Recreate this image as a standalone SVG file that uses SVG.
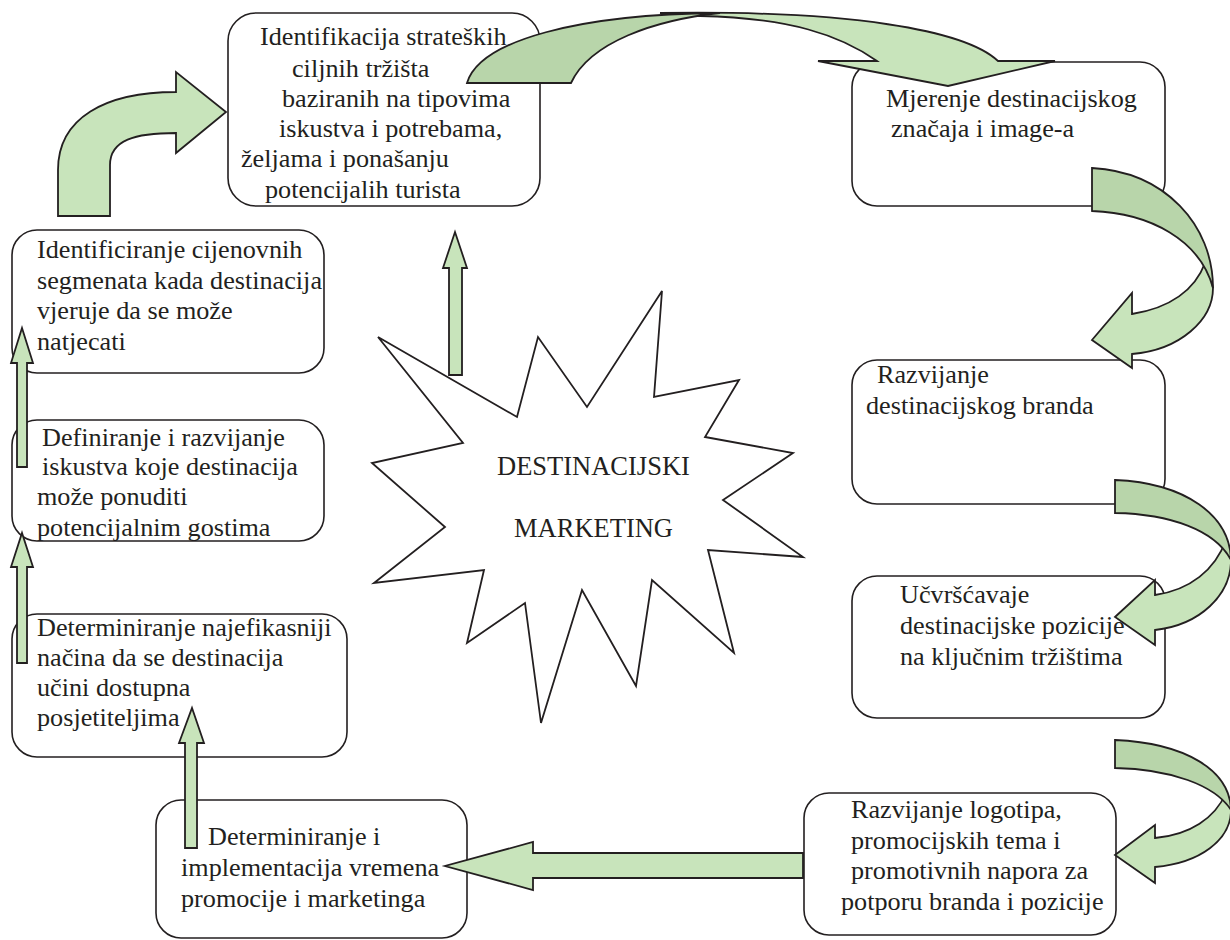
<svg xmlns="http://www.w3.org/2000/svg" width="1230" height="940" viewBox="0 0 1230 940">
<style>
.box{fill:#fff;stroke:#231f20;stroke-width:1.6}
.t{font-family:"Liberation Serif","Times New Roman",serif;font-size:26.2px;fill:#231f20}
.s{font-size:26.5px}
.lg{fill:#c8e4bb;stroke:#231f20;stroke-width:1.8;stroke-linejoin:miter}
.dg{fill:#b8d5aa;stroke:#231f20;stroke-width:1.8}
.star{fill:#fff;stroke:#231f20;stroke-width:1.8}
</style>
<rect width="1230" height="940" fill="#fff"/>
<g id="node-center">
<polygon class="star" points="378,337 517,417 538,337 587,407 662,291 654,397 739,380 705,437 793,453 723,500 803,557 708,550 734,653 652,580 636,686 582,590 541,723 525,603 467,643 484,570 374,583 445,527 372,463 463,443"/>
<text class="t s" x="497" y="475">DESTINACIJSKI</text>
<text class="t s" x="514" y="537">MARKETING</text>
</g>
<g id="node-1">
<rect class="box" x="228" y="13" width="312" height="193" rx="28"/>
<text class="t" x="260" y="45">Identifikacija strateških</text>
<text class="t" x="292" y="77">ciljnih tržišta</text>
<text class="t" x="282" y="107">baziranih na tipovima</text>
<text class="t" x="279" y="137">iskustva i potrebama,</text>
<text class="t" x="241" y="167">željama i ponašanju</text>
<text class="t" x="265" y="198">potencijalih turista</text>
</g>
<g id="node-2">
<rect class="box" x="852" y="62" width="313" height="144" rx="25"/>
<text class="t" x="886" y="107">Mjerenje destinacijskog</text>
<text class="t" x="891" y="137">značaja i image-a</text>
</g>
<g id="node-3">
<rect class="box" x="852" y="360" width="313" height="144" rx="25"/>
<text class="t" x="877" y="383">Razvijanje</text>
<text class="t" x="866" y="414">destinacijskog branda</text>
</g>
<g id="node-4">
<rect class="box" x="852" y="576" width="313" height="142" rx="25"/>
<text class="t" x="900" y="603">Učvršćavaje</text>
<text class="t" x="900" y="634">destinacijske pozicije</text>
<text class="t" x="900" y="665">na ključnim tržištima</text>
</g>
<g id="node-5">
<rect class="box" x="804" y="793" width="312" height="142" rx="25"/>
<text class="t" x="851" y="818">Razvijanje logotipa,</text>
<text class="t" x="851" y="849">promocijskih tema i</text>
<text class="t" x="851" y="879">promotivnih napora za</text>
<text class="t" x="841" y="910">potporu branda i pozicije</text>
</g>
<g id="node-6">
<rect class="box" x="156" y="800" width="311" height="138" rx="25"/>
<text class="t" x="208" y="845">Determiniranje i</text>
<text class="t" x="181" y="876">implementacija vremena</text>
<text class="t" x="181" y="907">promocije i marketinga</text>
</g>
<g id="node-7">
<rect class="box" x="12" y="614" width="335" height="143" rx="25"/>
<text class="t" x="37" y="636">Determiniranje najefikasniji</text>
<text class="t" x="37" y="666">načina da se destinacija</text>
<text class="t" x="37" y="696">učini dostupna</text>
<text class="t" x="37" y="726">posjetiteljima</text>
</g>
<g id="node-8">
<rect class="box" x="12" y="420" width="312" height="121" rx="25"/>
<text class="t" x="42" y="446">Definiranje i razvijanje</text>
<text class="t" x="42" y="475">iskustva koje destinacija</text>
<text class="t" x="37" y="505">može ponuditi</text>
<text class="t" x="37" y="536">potencijalnim gostima</text>
</g>
<g id="node-9">
<rect class="box" x="12" y="230" width="312" height="143" rx="25"/>
<text class="t" x="37" y="258">Identificiranje cijenovnih</text>
<text class="t" x="37" y="289">segmenata kada destinacija</text>
<text class="t" x="37" y="319">vjeruje da se može</text>
<text class="t" x="37" y="350">natjecati</text>
</g>
<g id="connectors">
<path class="lg" d="M660,13 C850,10 965,30 998,61 L1055,61 L948,86 L818,61 L877,61 C840,35 790,18 700,16 Z"/>
<path class="dg" d="M467,83 C480,40 580,14 720,13 C655,20 590,42 571,83 Z"/>
<path class="lg" d="M1205,263 C1195,290 1170,308 1132,314 L1132,293 L1092,340 L1132,368 L1132,354 C1180,350 1213,320 1213,288 C1212,280 1208,270 1205,263 Z"/>
<path class="dg" d="M1092,168 C1165,172 1213,225 1213,288 C1200,240 1150,213 1092,211 Z"/>
<path class="lg" d="M1226,540 C1215,570 1190,590 1155,595 L1155,580 L1115,617 L1155,645 L1155,630 C1200,625 1231,595 1231,560 C1230,553 1228,546 1226,540 Z"/>
<path class="dg" d="M1115,480 C1185,483 1230,515 1231,560 C1215,530 1170,514 1115,513 Z"/>
<path class="lg" d="M1226,793 C1215,818 1190,835 1155,838 L1155,825 L1115,855 L1155,883 L1155,867 C1200,863 1231,840 1231,810 C1230,804 1228,798 1226,793 Z"/>
<path class="dg" d="M1115,740 C1185,743 1230,770 1231,810 C1215,785 1170,769 1115,768 Z"/>
<path class="lg" d="M803,853 L533,853 L533,842 L445,866 L533,890 L533,878 L803,878 Z"/>
<path class="lg" d="M58,216 L58,170 C58,118 105,92 176,92 L176,72 L226,112 L176,153 L176,133 C135,133 110,140 110,165 L110,216 Z"/>
<path class="lg" d="M17,467 L17,363 L11,363 L22,328 L33,363 L27,363 L27,467 Z"/>
<path class="lg" d="M17,663 L17,567 L11,567 L22,533 L33,567 L27,567 L27,663 Z"/>
<path class="lg" d="M185,848 L185,743 L179,743 L192,708 L204,743 L197,743 L197,848 Z"/>
<path class="lg" d="M449,375 L449,268 L443,268 L455,232 L467,268 L462,268 L462,375 Z"/>
</g>
</svg>
